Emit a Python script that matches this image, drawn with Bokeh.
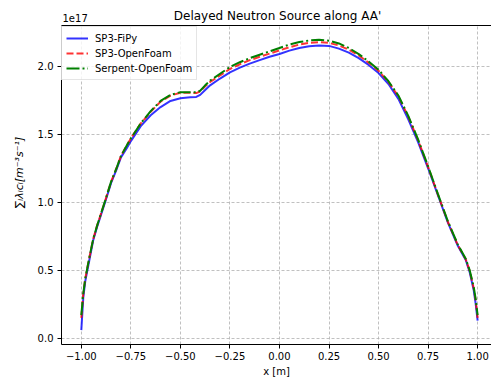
from bokeh.plotting import figure
from bokeh.models import Range1d, FixedTicker, Label, Span, Legend, LegendItem, BoxAnnotation
from bokeh.embed import file_html
from bokeh.resources import INLINE

# ---- data (values in units of 1e17) ----
x_vals = [-1.0, -0.99, -0.98, -0.96, -0.94, -0.92, -0.9, -0.88, -0.85, -0.82, -0.8, -0.77,
          -0.75, -0.7, -0.65, -0.6, -0.55, -0.5, -0.45, -0.42, -0.4, -0.375, -0.35, -0.3,
          -0.25, -0.2, -0.15, -0.1, -0.05, 0.0, 0.05, 0.1, 0.15, 0.2, 0.25, 0.3, 0.35, 0.4,
          0.45, 0.5, 0.55, 0.6, 0.65, 0.7, 0.75, 0.8, 0.85, 0.9, 0.94, 0.96, 0.98, 0.99, 1.0]

sp3_fipy = [0.06, 0.30, 0.42, 0.57, 0.72, 0.82, 0.91, 1.00, 1.14, 1.25, 1.33, 1.40,
            1.45, 1.56, 1.64, 1.70, 1.745, 1.765, 1.772, 1.775, 1.79, 1.825, 1.86, 1.91,
            1.955, 1.99, 2.02, 2.045, 2.07, 2.09, 2.115, 2.135, 2.148, 2.153, 2.15, 2.13, 2.10, 2.06,
            2.01, 1.95, 1.87, 1.76, 1.61, 1.44, 1.25, 1.05, 0.85, 0.68, 0.575, 0.485, 0.355, 0.255, 0.13]

sp3_openfoam = [0.15, 0.33, 0.44, 0.59, 0.73, 0.83, 0.92, 1.01, 1.15, 1.26, 1.34, 1.42,
                1.47, 1.58, 1.665, 1.74, 1.785, 1.805, 1.805, 1.803, 1.815, 1.853, 1.885, 1.933,
                1.98, 2.015, 2.045, 2.07, 2.093, 2.117, 2.14, 2.16, 2.172, 2.178, 2.172, 2.153, 2.122, 2.08,
                2.027, 1.967, 1.885, 1.78, 1.63, 1.455, 1.26, 1.055, 0.855, 0.685, 0.58, 0.495, 0.37, 0.28, 0.15]

serpent_openfoam = [0.17, 0.33, 0.44, 0.59, 0.73, 0.83, 0.92, 1.01, 1.15, 1.26, 1.34, 1.42,
                    1.47, 1.58, 1.67, 1.745, 1.79, 1.81, 1.81, 1.808, 1.82, 1.86, 1.895, 1.945,
                    1.995, 2.03, 2.06, 2.085, 2.11, 2.135, 2.16, 2.178, 2.19, 2.195, 2.188, 2.168, 2.135, 2.09,
                    2.035, 1.975, 1.89, 1.785, 1.635, 1.46, 1.265, 1.06, 0.86, 0.69, 0.585, 0.50, 0.38, 0.29, 0.17]

series_names = ["SP3-FiPy", "SP3-OpenFoam", "Serpent-OpenFoam"]

x_ticks = [-1.0, -0.75, -0.5, -0.25, 0.0, 0.25, 0.5, 0.75, 1.0]
x_tick_labels = ["\u22121.00", "\u22120.75", "\u22120.50", "\u22120.25", "0.00", "0.25", "0.50", "0.75", "1.00"]
y_ticks = [0.0, 0.5, 1.0, 1.5, 2.0]
y_tick_labels = ["0.0", "0.5", "1.0", "1.5", "2.0"]
y_scale_text = "1e17"

title_text = "Delayed Neutron Source along AA'"
x_label = "x [m]"
y_label = "\u2211\u1d62\u03bb\u1d62c\u1d62[m\u207b\u00b3s\u207b\u00b9]"

FONT = "DejaVu Sans"
X_START, X_END = -1.1, 1.07
Y_START, Y_END = -0.046, 2.30

# layout (pixels)
W, H = 491, 379
BORDER_LEFT, BORDER_BOTTOM = 61, 35
AXES_TOP = 25                      # top spine sits this far below the canvas top
FRAME_H = H - BORDER_BOTTOM
FRAME_W = W - BORDER_LEFT
Y_TOP = Y_END + AXES_TOP * (Y_END - Y_START) / (FRAME_H - AXES_TOP)

p = figure(width=W, height=H, output_backend="svg", toolbar_location=None,
           x_range=Range1d(X_START, X_END), y_range=Range1d(Y_START, Y_TOP),
           min_border_left=BORDER_LEFT, min_border_right=0, min_border_top=0,
           min_border_bottom=BORDER_BOTTOM)

p.outline_line_color = None
p.background_fill_color = "white"
p.border_fill_color = "white"

for ax in (p.xaxis[0], p.yaxis[0]):
    ax.axis_line_color = "black"
    ax.axis_line_width = 1
    ax.major_tick_line_color = "black"
    ax.major_tick_out = 4
    ax.major_tick_in = 0
    ax.minor_tick_line_color = None
    ax.major_label_text_font = FONT
    ax.major_label_text_font_size = "10px"
    ax.major_label_text_color = "black"
    ax.axis_label_text_font = FONT
    ax.axis_label_text_color = "black"
    ax.axis_label_text_font_style = "normal"

p.yaxis.bounds = (Y_START, Y_END)
p.xaxis.ticker = FixedTicker(ticks=x_ticks)
p.xaxis.major_label_overrides = {t: l for t, l in zip(x_ticks, x_tick_labels)}
p.yaxis.ticker = FixedTicker(ticks=y_ticks)
p.yaxis.major_label_overrides = {t: l for t, l in zip(y_ticks, y_tick_labels)}
p.xaxis.major_label_standoff = 3
p.yaxis.major_label_standoff = 4
p.xaxis.axis_label = x_label
p.xaxis.axis_label_text_font_size = "10px"
p.xaxis.axis_label_standoff = 3
p.yaxis.axis_label = y_label
p.yaxis.axis_label_text_font_size = "11px"
p.yaxis.axis_label_text_font_style = "italic"
p.yaxis.axis_label_standoff = 9

p.grid.grid_line_color = "#b0b0b0"
p.grid.grid_line_dash = "3 2"
p.grid.grid_line_width = 0.8

r1 = p.line(x_vals, sp3_fipy, line_color="blue", line_alpha=0.8, line_width=2)
r2 = p.line(x_vals, sp3_openfoam, line_color="red", line_alpha=0.8, line_width=2, line_dash="7 3")
r3 = p.line(x_vals, serpent_openfoam, line_color="green", line_width=2, line_dash="13 3 2 3")

# blank strip above the axes (title area) and top spine
p.add_layout(BoxAnnotation(bottom=Y_END, fill_color="white", fill_alpha=1.0,
                           line_color=None, level="overlay"))
p.add_layout(Span(location=Y_END, dimension="width", line_color="black",
                  line_width=1, level="overlay"))

legend = Legend(items=[LegendItem(label=n, renderers=[r]) for n, r in zip(series_names, [r1, r2, r3])],
                location=(0, FRAME_H - 80), margin=4, padding=4, spacing=1,
                glyph_width=22, glyph_height=14, label_height=14, label_standoff=7,
                label_text_font=FONT, label_text_font_size="10px", label_text_color="black",
                border_line_color="#cccccc", background_fill_color="white", background_fill_alpha=0.8)
p.add_layout(legend)

p.add_layout(Label(x=FRAME_W / 2 + 1, y=FRAME_H - 15, x_units="screen", y_units="screen",
                   text=title_text, level="overlay",
                   text_font=FONT, text_font_size="12px", text_color="black",
                   text_baseline="middle", text_align="center"))
p.add_layout(Label(x=1, y=FRAME_H - 17.5, x_units="screen", y_units="screen",
                   text=y_scale_text, level="overlay",
                   text_font=FONT, text_font_size="10px", text_color="black",
                   text_baseline="middle", text_align="left"))

open("out.html", "w").write(file_html(p, INLINE))
